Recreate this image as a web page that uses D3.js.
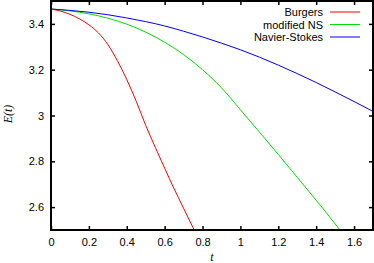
<!DOCTYPE html>
<html>
<head>
<meta charset="utf-8">
<script src="https://cdn.jsdelivr.net/npm/d3@7"></script>
<style>
  body { margin: 0; background: #fff; }
  svg { display: block; }
  .tick text { font-family: "Liberation Sans", Arial, sans-serif; font-size: 11px; fill: #000; }
</style>
</head>
<body>
<svg id="chart" width="374" height="263"></svg>
<script>
// series
var burgersT = [0, 0.05, 0.1, 0.15, 0.2, 0.25, 0.3, 0.35, 0.4, 0.45, 0.5, 0.55, 0.6, 0.65, 0.7, 0.75, 0.77];
var burgersE = [3.465, 3.456, 3.442, 3.422, 3.396, 3.361, 3.310, 3.240, 3.157, 3.062, 2.957, 2.862, 2.770, 2.680, 2.595, 2.510, 2.476];

var modNsT = [0, 0.1, 0.2, 0.3, 0.4, 0.5, 0.6, 0.7, 0.8, 0.9, 1.0, 1.1, 1.2, 1.3, 1.4, 1.5, 1.55];
var modNsE = [3.465, 3.457, 3.444, 3.425, 3.399, 3.364, 3.320, 3.266, 3.200, 3.121, 3.025, 2.928, 2.830, 2.730, 2.630, 2.527, 2.474];

var nsT = [0, 0.1, 0.2, 0.3, 0.4, 0.5, 0.6, 0.7, 0.8, 0.9, 1.0, 1.1, 1.2, 1.3, 1.4, 1.5, 1.6, 1.7];
var nsE = [3.465, 3.459, 3.451, 3.440, 3.426, 3.410, 3.391, 3.368, 3.343, 3.316, 3.287, 3.255, 3.220, 3.183, 3.144, 3.103, 3.061, 3.018];

var seriesNames = ["Burgers", "modified NS", "Navier-Stokes"];
var seriesColors = ["#ff0000", "#00e000", "#0000ff"];

var xTicks = [0, 0.2, 0.4, 0.6, 0.8, 1, 1.2, 1.4, 1.6];
var yTicks = [2.6, 2.8, 3, 3.2, 3.4];

var svg = d3.select("#chart");
// plot frame (note: "top" is taken by window.top, so use other names)
var plotL = 51, plotR = 373, plotT = 1, plotB = 230;

var x = d3.scaleLinear().domain([0, 1.7]).range([plotL, plotR]);
var y = d3.scaleLinear().domain([2.5, 3.5]).range([plotB, plotT]);

var fmt = function(d) { return d3.format("")(d); };

// clip so lines stop at the frame
svg.append("clipPath").attr("id", "clip")
  .append("rect").attr("x", plotL).attr("y", plotT).attr("width", plotR - plotL).attr("height", plotB - plotT);

var series = [
  { t: burgersT, e: burgersE },
  { t: modNsT, e: modNsE },
  { t: nsT, e: nsE }
];

var line = d3.line()
  .x(function(d) { return x(d[0]); })
  .y(function(d) { return y(d[1]); })
  .curve(d3.curveMonotoneX);

series.forEach(function(s, i) {
  var pts = s.t.map(function(t, j) { return [t, s.e[j]]; });
  svg.append("path")
    .attr("clip-path", "url(#clip)")
    .attr("d", line(pts))
    .attr("fill", "none")
    .attr("stroke", seriesColors[i])
    .attr("stroke-width", 1);
});

// axes, gnuplot style: inward ticks on all sides
function styleAxis(g) {
  g.select(".domain").remove();
  g.selectAll(".tick line").attr("stroke", "#000").attr("stroke-width", 1.5);
}

svg.append("g").attr("transform", "translate(0," + plotB + ")")
  .call(d3.axisBottom(x).tickValues(xTicks).tickFormat(fmt).tickSizeInner(-4).tickPadding(8))
  .call(styleAxis);
svg.append("g").attr("transform", "translate(0," + plotT + ")")
  .call(d3.axisTop(x).tickValues(xTicks).tickFormat("").tickSizeInner(-4))
  .call(styleAxis);
svg.append("g").attr("transform", "translate(" + plotL + ",0)")
  .call(d3.axisLeft(y).tickValues(yTicks).tickFormat(fmt).tickSizeInner(-4).tickPadding(7))
  .call(styleAxis);
svg.append("g").attr("transform", "translate(" + plotR + ",0)")
  .call(d3.axisRight(y).tickValues(yTicks).tickFormat("").tickSizeInner(-4))
  .call(styleAxis);

svg.selectAll(".tick text").attr("font-family", null).attr("font-size", null);

// frame
svg.append("rect")
  .attr("x", plotL).attr("y", plotT)
  .attr("width", plotR - plotL).attr("height", plotB - plotT)
  .attr("fill", "none").attr("stroke", "#000").attr("stroke-width", 2);

// legend
var legend = svg.append("g");
seriesNames.forEach(function(name, i) {
  var ly = 12 + i * 12.5;
  legend.append("text")
    .attr("x", 323).attr("y", ly + 4)
    .attr("text-anchor", "end")
    .attr("font-family", "Liberation Sans, Arial, sans-serif")
    .attr("font-size", 11)
    .text(name);
  legend.append("line")
    .attr("x1", 330).attr("x2", 360)
    .attr("y1", ly).attr("y2", ly)
    .attr("stroke", seriesColors[i]).attr("stroke-width", 1);
});

// axis labels
svg.append("text")
  .attr("x", 212).attr("y", 261)
  .attr("text-anchor", "middle")
  .attr("font-family", "Liberation Serif, Times New Roman, serif")
  .attr("font-style", "italic")
  .attr("font-size", 12)
  .text("t");

svg.append("text")
  .attr("transform", "translate(12,114) rotate(-90)")
  .attr("text-anchor", "middle")
  .attr("font-family", "Liberation Serif, Times New Roman, serif")
  .attr("font-style", "italic")
  .attr("font-size", 12)
  .text("E(t)");
</script>
</body>
</html>
